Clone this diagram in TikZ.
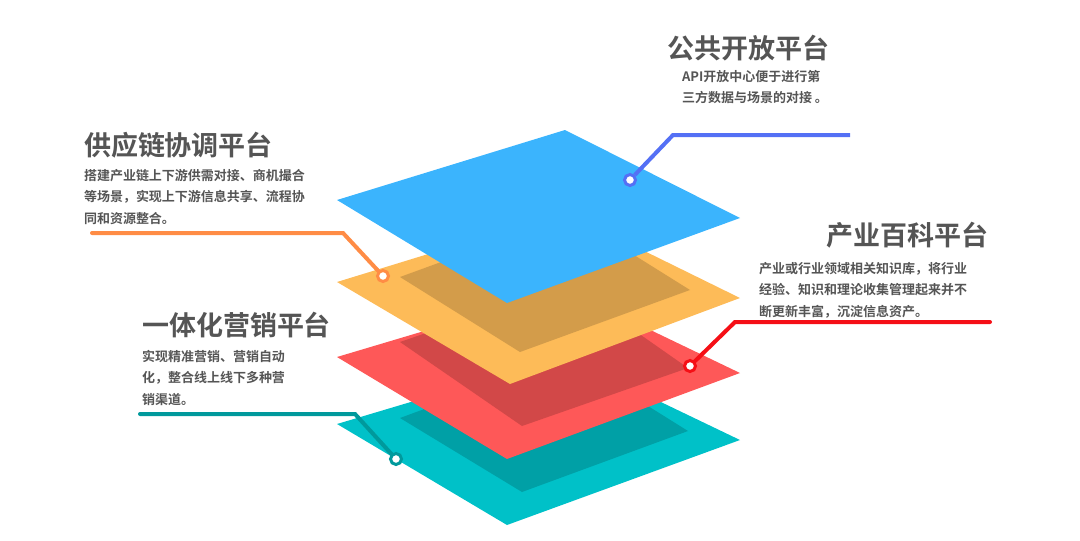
\documentclass[tikz,border=0pt]{standalone}
\usepackage{fontspec}
\setmainfont{Noto Sans CJK SC}[BoldFont={* Bold}]
\usetikzlibrary{positioning}
\definecolor{cblue}{HTML}{3BB4FD}
\definecolor{cyellow}{HTML}{FDBB58}
\definecolor{cyellowd}{HTML}{D39C4A}
\definecolor{cred}{HTML}{FE5858}
\definecolor{credd}{HTML}{D24848}
\definecolor{cteal}{HTML}{00C1C8}
\definecolor{ctealx}{HTML}{00A0A6}
\definecolor{lblue}{HTML}{5470F5}
\definecolor{lorange}{HTML}{FF8C45}
\definecolor{lred}{HTML}{F50F16}
\definecolor{lteal}{HTML}{00999C}
\definecolor{txt}{HTML}{555555}
\tikzset{every path/.style={line width=4pt}, every node/.style={inner sep=0pt},
  title/.style={font=\fontsize{27}{30}\selectfont\bfseries, text=txt},
  desc/.style={font=\fontsize{13}{21.5}\selectfont\bfseries, text=txt, align=left},
  pin/.style={draw=#1, fill=white, line width=3pt, circle, minimum size=11pt}}
\begin{document}
\begin{tikzpicture}[x=1pt,y=-1pt]
  \useasboundingbox (0,0) rectangle (1080,541);
  % layers, bottom first
  \fill[cteal] (337,424) -- (565,356) -- (740,440) -- (507,525) -- cycle;
  \fill[ctealx] (400,418) -- (568,356) -- (688,431) -- (522,492) -- cycle;
  \fill[cred] (337,357) -- (565,289) -- (740,373) -- (507,459) -- cycle;
  \fill[credd] (400,342) -- (568,284) -- (688,368) -- (522,426) -- cycle;
  \fill[cyellow] (337,282) -- (565,212) -- (740,298) -- (510,384) -- cycle;
  \fill[cyellowd] (400,277) -- (570,215) -- (690,290) -- (520,352) -- cycle;
  \fill[cblue] (337,200) -- (565,130) -- (740,218) -- (507,303) -- cycle;
  % callouts
  \node[pin=lblue] (p1) at (630,180) {};
  \coordinate (k1) at (673,135);
  \coordinate (e1) at (850,135);
  \draw[lblue] (p1) -- (k1) -- (e1);
  \node[pin=lorange] (p2) at (383,276) {};
  \coordinate (k2) at (343,233);
  \coordinate (e2) at (92,233);
  \draw[lorange,line cap=round] (p2) -- (k2) -- (e2);
  \node[pin=lred] (p3) at (690,366) {};
  \coordinate (k3) at (735,322);
  \coordinate (e3) at (990,322);
  \draw[lred,line cap=round] (p3) -- (k3) -- (e3);
  \node[pin=lteal] (p4) at (396,459) {};
  \coordinate (k4) at (355,414);
  \coordinate (e4) at (140,414);
  \draw[lteal,line cap=round] (p4) -- (k4) -- (e4);
  % texts
  \node[title, anchor=west] (t1) at (665,48) {公共开放平台};
  \node[desc, anchor=north west] (d1) at (680,68) {API开放中心便于进行第\\三方数据与场景的对接 。};
  \node[title, anchor=west] (t2) at (82,145) {供应链协调平台};
  \node[desc, anchor=north west] (d2) at (82,167) {搭建产业链上下游供需对接、商机撮合\\等场景，实现上下游信息共享、流程协\\同和资源整合。};
  \node[title, anchor=east] (t3) at (990,235) {产业百科平台};
  \node[desc, anchor=north west] (d3) at (757,260) {产业或行业领域相关知识库，将行业\\经验、知识和理论收集管理起来并不\\断更新丰富，沉淀信息资产。};
  \node[title, anchor=west] (t4) at (140,325) {一体化营销平台};
  \node[desc, anchor=north west] (d4) at (140,348) {实现精准营销、营销自动\\化，整合线上线下多种营\\销渠道。};
\end{tikzpicture}
\end{document}
